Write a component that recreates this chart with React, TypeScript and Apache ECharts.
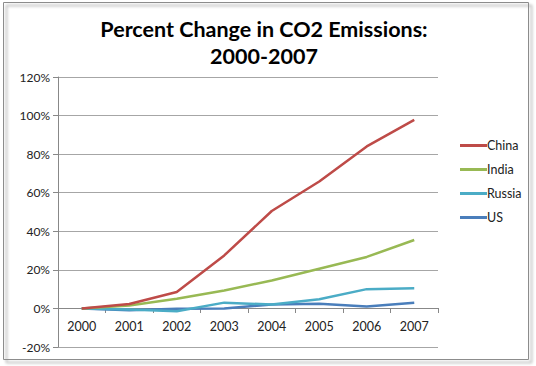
import React, { useEffect, useRef } from "react";
import * as echarts from "echarts";

const years = ["2000", "2001", "2002", "2003", "2004", "2005", "2006", "2007"];
const china = [0, 2.3, 8.5, 27.5, 50.5, 65.8, 84, 97.8];
const india = [0, 1.5, 5, 9.3, 14.5, 20.6, 26.7, 35.5];
const russia = [0, -0.6, -1.5, 3, 2, 4.8, 10, 10.4];
const us = [0, -1, -0.2, 0, 2, 2.4, 1, 3];
const seriesNames = ["China", "India", "Russia", "US"];
const colors = ["#BE4B48", "#98B954", "#4BACC6", "#4A7EBB"];

export default function App() {
  const ref = useRef<HTMLDivElement>(null);
  useEffect(() => {
    document.body.style.margin = "0";
    const chart = echarts.init(ref.current!, null, { renderer: "svg" });
    const data = [china, india, russia, us];
    chart.setOption({
      animation: false,
      backgroundColor: "#ffffff",
      title: {
        text: "Percent Change in CO2 Emissions:\n2000-2007",
        left: 259,
        textAlign: "center",
        top: 10,
        textStyle: {
          fontFamily: "Lato",
          fontWeight: "bold",
          fontSize: 21.5,
          lineHeight: 27,
          color: "#000",
        },
      },
      legend: {
        orient: "vertical",
        left: 455,
        top: 133,
        itemGap: 9,
        itemWidth: 27,
        itemHeight: 3,
        icon: "rect",
        data: seriesNames,
        textStyle: { fontFamily: "Lato", fontSize: 12.5, lineHeight: 15, color: "#222", padding: [0, 0, 0, -5] },
      },
      grid: [
        { left: 58, right: 98, top: 77, bottom: 19, outerBoundsMode: "none", containLabel: false },
        { left: 58, right: 98, top: 308, height: 5, outerBoundsMode: "none", containLabel: false },
      ],
      xAxis: [
        {
          type: "category",
          data: years,
          boundaryGap: true,
          gridIndex: 0,
          axisLine: { show: false, onZero: false },
          axisTick: { show: false },
          axisLabel: { margin: -27, fontFamily: "Lato", fontSize: 12.5, color: "#222" },
          splitLine: { show: false },
        },
        {
          type: "category",
          data: years,
          boundaryGap: true,
          gridIndex: 1,
          position: "top",
          axisLine: { show: true, onZero: false, lineStyle: { color: "#888", width: 1 } },
          axisTick: { show: true, inside: true, length: 5, lineStyle: { color: "#888" } },
          axisLabel: { show: false },
          splitLine: { show: false },
        },
      ],
      yAxis: [
        {
          type: "value",
          min: -20,
          max: 120,
          interval: 20,
          gridIndex: 0,
          axisLine: { show: true, lineStyle: { color: "#888" } },
          axisTick: { show: true, length: 5, lineStyle: { color: "#888" } },
          axisLabel: {
            formatter: "{value}%",
            margin: 8,
            fontFamily: "Lato",
            fontSize: 12,
            color: "#222",
          },
          splitLine: { show: true, lineStyle: { color: "#a6a6a6", width: 1 } },
        },
        {
          type: "value",
          gridIndex: 1,
          show: false,
        },
      ],
      series: seriesNames.map((n, i) => ({
        name: n,
        type: "line",
        xAxisIndex: 0,
        yAxisIndex: 0,
        data: data[i],
        symbol: "none",
        color: colors[i],
        lineStyle: { width: 2.5, color: colors[i] },
        z: 10 - i,
      })),
      graphic: [
        {
          type: "rect",
          shape: { x: 3.5, y: 2.5, width: 525, height: 357 },
          style: {
            fill: "none",
            stroke: "#8c8c8c",
            lineWidth: 1,
            shadowColor: "rgba(0,0,0,0.45)",
            shadowBlur: 3,
            shadowOffsetX: 3,
            shadowOffsetY: 3,
          },
          z: -1,
        },
      ],
    });
    return () => chart.dispose();
  }, []);
  return <div ref={ref} style={{ position: "fixed", left: 0, top: 0, width: 536, height: 366 }} />;
}
